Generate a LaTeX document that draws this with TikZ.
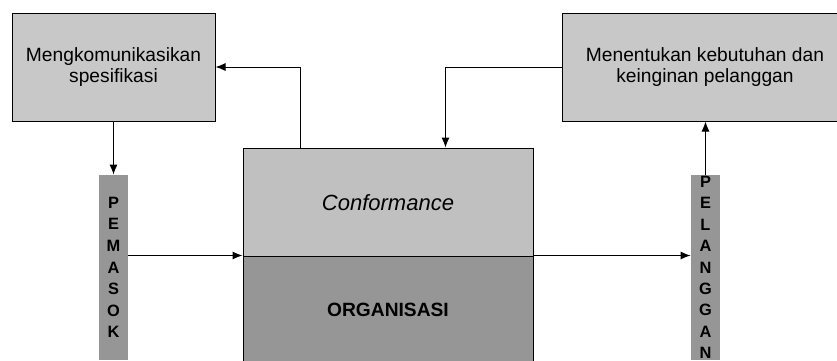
\documentclass[tikz,border=0pt]{standalone}
\usepackage{fontspec}
\setmainfont{Liberation Sans}
\usepackage{xcolor}
\usetikzlibrary{arrows.meta}

\definecolor{boxgray}{RGB}{200,200,200}
\definecolor{confgray}{RGB}{192,192,192}
\definecolor{darkgray}{RGB}{150,150,150}

\tikzset{
  taskbox/.style={draw, fill=boxgray, line width=0.5pt, minimum width=143pt, minimum height=54pt, align=center, inner sep=0pt, font=\fontsize{9.6}{10.5}\selectfont},
  sidebar/.style={fill=darkgray, minimum width=14.5pt, minimum height=92.5pt, inner sep=0pt, align=center, font=\bfseries\fontsize{8.2}{10.8}\selectfont},
  flow/.style={-{Latex[length=5pt,width=4pt]}, line width=0.5pt}
}

\begin{document}
\begin{tikzpicture}[x=0.5pt, y=-0.5pt]
            \useasboundingbox (0,0) rectangle (837,360);

            % kotak atas
            \node[taskbox, minimum width=101.5pt] (spec) at (113.5,67) {Mengkomunikasikan\\spesifikasi};
            \node[taskbox] (needs) at (705,67) {Menentukan kebutuhan dan\\keinginan pelanggan};

            % kotak tengah
            \node[draw, fill=confgray, line width=0.5pt, minimum width=145pt, minimum height=54.5pt, inner sep=0pt,
                  font=\itshape\fontsize{11}{13}\selectfont] (conf) at (388,202.5) {Conformance};
            \node[draw, fill=darkgray, line width=0.5pt, minimum width=145pt, minimum height=54pt, inner sep=0pt,
                  font=\bfseries\fontsize{9.6}{11}\selectfont] (org) at (388,310) {ORGANISASI};

            % batang samping
            \node[sidebar] (pemasok) at (113.5,267.5) {P\\E\\M\\A\\S\\O\\K};
            \node[sidebar, font=\bfseries\fontsize{8.2}{10.7}\selectfont] (pelanggan) at (705.5,267.5) {P\\E\\L\\A\\N\\G\\G\\A\\N};

            % panah
            \draw[flow] (spec.south) -- (pemasok.north);
            \draw[flow] ([xshift=29pt]conf.north west) |- (spec.east);
            \draw[flow] (needs.west) -| ([xshift=101.5pt]conf.north west);
            \draw[flow] (pelanggan.north) -- (pelanggan.north |- needs.south);
            \draw[flow] (org.north west -| pemasok.east) -- (org.north west);
            \draw[flow] (org.north east) -- (org.north east -| pelanggan.west);
        \end{tikzpicture}
\end{document}
